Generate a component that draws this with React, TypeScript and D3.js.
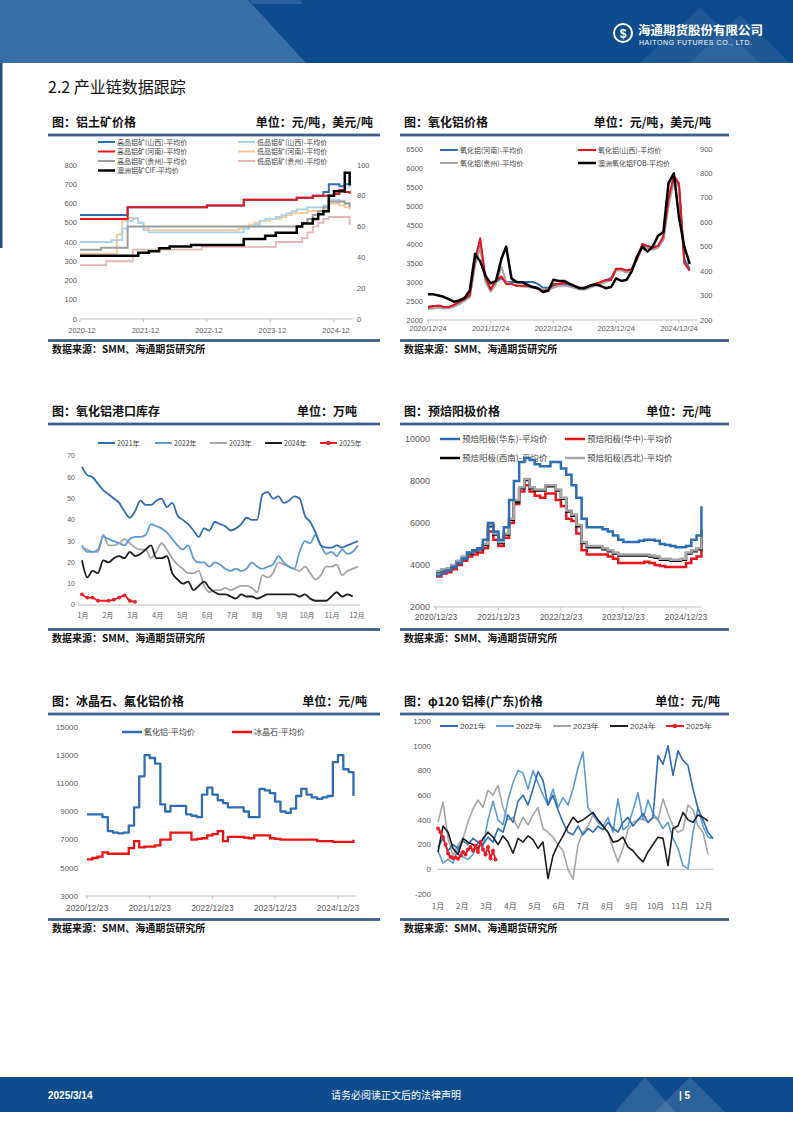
import React from "react";
import * as d3 from "d3";

// ================= DATA =================
// Chart 1: 铝土矿价格 monthly 2020-12 .. 2025-03 (52 months)
const c1TickLabels = ["2020-12", "2021-12", "2022-12", "2023-12", "2024-12"];
const c1LeftTicks = [0, 100, 200, 300, 400, 500, 600, 700, 800];
const c1RightTicks = [0, 20, 40, 60, 80, 100];
const c1HighSX = [540,540,540,540,540,540,540,540,540,580,580,580,580,580,580,580,580,580,580,580,580,580,580,580,590,590,590,590,590,590,590,620,620,620,620,620,620,620,620,620,620,630,630,630,640,640,660,700,700,690,700,690];
const c1HighHN = [520,520,520,520,520,520,520,520,520,580,580,580,580,580,580,580,580,580,580,580,580,580,580,580,590,590,590,590,590,590,590,620,620,620,620,620,620,620,620,620,620,630,630,630,640,640,640,640,650,670,660,650];
const c1HighGZ = [360,360,360,360,370,370,370,370,370,480,480,480,480,480,480,480,480,480,480,480,480,480,480,480,480,480,480,480,480,480,480,480,480,480,480,480,480,480,480,480,480,480,500,520,540,560,580,610,610,610,600,580];
const c1LowSX = [400,400,400,400,400,400,410,410,470,510,520,500,460,450,450,450,450,450,450,450,450,450,450,450,450,450,450,450,450,450,450,470,480,490,510,520,520,530,540,550,560,570,570,580,580,580,590,620,620,610,600,600];
const c1LowHN = [340,340,340,340,340,340,340,440,510,525,525,500,470,460,460,460,460,460,460,460,460,460,460,460,460,460,460,460,460,460,470,480,490,500,510,510,520,520,530,540,550,550,550,560,560,560,570,600,600,590,580,570];
const c1LowGZ = [280,280,280,280,280,300,300,300,300,300,360,360,360,360,360,360,360,360,360,360,360,360,360,375,375,375,375,375,375,375,375,375,375,375,375,375,375,400,400,400,400,400,420,450,480,500,520,530,530,530,530,490];
const c1CIF = [41,41,41,41,41,41,41,41,41,41,41,43,43,44,44,46,46,47,47,47,47,48,48,48,48,48,48,48,48,48,48,52,52,52,52,54,54,56,56,56,56,60,62,62,65,68,70,80,83,83,95,87];

// Chart 2: 氧化铝价格 monthly from 2020/12/24 (51 months)
const c2TickLabels = ["2020/12/24", "2021/12/24", "2022/12/24", "2023/12/24", "2024/12/24"];
const c2LeftTicks = [2000, 2500, 3000, 3500, 4000, 4500, 5000, 5500, 6000, 6500];
const c2RightTicks = [200, 300, 400, 500, 600, 700, 800, 900];
const c2Henan = [2350,2370,2360,2330,2340,2380,2450,2520,2620,3500,3950,3050,2800,3000,3100,3000,3000,3000,3000,3000,3000,2950,2850,2850,2900,2950,2950,2920,2880,2850,2850,2900,2950,2980,3050,3100,3350,3330,3300,3330,3650,3950,3950,3900,3950,4150,5100,5750,5500,3600,3350];
const c2Shanxi = [2330,2360,2380,2350,2340,2400,2480,2550,2650,3600,4150,3100,2800,3050,3150,2950,2950,2900,2900,2900,2880,2850,2750,2800,2950,2950,2980,2950,2900,2850,2850,2900,2950,3000,3050,3050,3350,3350,3300,3350,3600,4000,3950,3900,3950,4200,5200,5800,5600,3500,3300];
const c2Guizhou = [2280,2300,2320,2300,2310,2350,2420,2500,2600,3450,3900,3000,2750,2950,3400,3000,2950,2900,2880,2870,2850,2820,2800,2800,2850,2900,2900,2880,2850,2800,2800,2850,2900,2950,3000,3050,3300,3300,3250,3300,3600,3900,3900,3850,3900,4100,5000,5650,5500,3500,3300];
const c2FOB = [305,305,300,295,285,275,280,290,320,470,440,380,350,360,450,500,370,355,355,345,335,330,315,320,365,360,360,350,340,330,330,340,345,340,330,335,370,360,365,400,460,500,480,500,545,560,760,800,620,500,430];

// Chart 3: 氧化铝港口库存 weekly (万吨)
const c3Months = ["1月","2月","3月","4月","5月","6月","7月","8月","9月","10月","11月","12月"];
const c3Ticks = [0, 10, 20, 30, 40, 50, 60, 70];
const c3Y2021 = [65,61,60,57,54,52,50,48,44,41,44,49,47,47,49,50,46,48,42,40,38,35,32,36,35,39,38,37,35,36,38,41,40,40,52,53,50,51,48,49,51,50,42,39,34,28,27,27,28,27,28,29,30];
const c3Y2022 = [28,25,25,26,32,31,30,29,28,31,32,32,33,38,37,36,34,31,28,26,28,22,20,20,18,20,19,17,16,17,16,17,20,18,17,18,19,23,20,18,17,25,30,29,33,28,24,25,23,26,24,25,28];
const c3Y2023 = [27,26,25,25,33,28,28,29,31,29,27,26,26,22,25,29,26,22,19,17,15,15,16,9,6,7,7,8,7,8,9,9,8,6,14,13,15,20,19,18,17,16,18,15,12,14,18,18,19,14,16,17,18];
const c3Y2024 = [21,13,16,15,21,20,22,23,22,25,23,24,26,28,22,22,23,15,12,10,11,7,9,11,8,6,5,5,4,3,5,4,4,3,4,5,5,5,5,5,5,4,5,3,2,2,2,4,6,4,5,4];
const c3W2025 = [0, 1, 2, 3, 5, 6, 7, 8, 9, 10];
const c3Y2025 = [5, 3.5, 3.5, 2, 2, 2.5, 3.5, 4.5, 2, 1.5];

// Chart 4: 预焙阳极价格 monthly from 2020/12/23 (52 months)
const c4TickLabels = ["2020/12/23", "2021/12/23", "2022/12/23", "2023/12/23", "2024/12/23"];
const c4Ticks = [2000, 4000, 6000, 8000, 10000];
const c4East = [3500,3650,3750,3900,4100,4300,4600,4700,4800,5200,6000,5600,5200,5800,7100,8000,8900,9100,9000,8800,8700,8700,8900,8900,8600,8300,7800,7200,6200,5800,5800,5800,5700,5600,5400,5200,5100,5100,5100,5150,5200,5200,5150,5000,4950,4900,4850,4850,4900,5200,5400,6800];
const c4Central = [3450,3600,3650,3800,4000,4200,4400,4500,4600,4800,5600,5200,4900,5300,6000,6900,7500,7800,7500,7300,7200,7400,7400,7100,6800,6200,6100,5500,4700,4500,4500,4500,4500,4400,4300,4100,4100,4100,4100,4100,4150,4100,4000,3950,3900,3900,3900,3900,4100,4300,4400,5300];
const c4SW = [3650,3750,3800,3950,4150,4350,4550,4650,4750,4950,5850,5450,5050,5450,6150,7000,7650,8050,7650,7550,7550,7750,7750,7550,7150,6550,6350,5850,5050,4850,4850,4850,4750,4650,4550,4450,4450,4450,4450,4450,4450,4400,4350,4250,4250,4200,4200,4250,4550,4650,4750,5650];
const c4NW = [3700,3800,3850,4000,4200,4400,4600,4700,4800,5000,5900,5500,5100,5500,6200,7100,7700,8100,7700,7600,7600,7800,7800,7600,7200,6600,6400,5900,5100,4900,4900,4900,4800,4700,4600,4500,4500,4500,4500,4500,4500,4450,4400,4300,4300,4250,4250,4300,4600,4700,4800,5700];

// Chart 5: 冰晶石、氟化铝价格 monthly from 2020/12/23 (52 months)
const c5TickLabels = ["2020/12/23", "2021/12/23", "2022/12/23", "2023/12/23", "2024/12/23"];
const c5Ticks = [3000, 5000, 7000, 9000, 11000, 13000, 15000];
const c5AlF3 = [8800,8800,8800,8600,7600,7500,7450,7500,8000,9300,11500,13000,12800,12400,9500,9000,9400,9400,9400,8800,8700,8600,10200,10700,10200,9800,9600,9300,9300,9300,9000,8600,8600,10600,10500,10300,9700,9000,8900,9200,10100,10600,10200,10000,9900,10000,10100,12500,13000,12000,11800,10100];
const c5Cryolite = [5600,5700,5800,6100,6000,6000,6000,6000,6400,6900,6450,6500,6500,6600,7000,7000,7500,7500,7500,7500,7000,7050,7100,7300,7400,7600,6900,7200,7200,7200,7150,7100,7300,7300,7300,7100,7050,7000,7000,7000,7000,7000,7000,7000,6900,6900,6900,6850,6850,6850,6850,7000];

// Chart 6: φ120 铝棒(广东)价格 — samples every 2 steps (2025 every step)
const c6Months = ["1月","2月","3月","4月","5月","6月","7月","8月","9月","10月","11月","12月"];
const c6Ticks = [-200, 0, 200, 400, 600, 800, 1000, 1200];
const c6Y2021 = [180,250,150,200,170,230,200,250,220,200,260,220,330,300,440,380,550,600,520,650,790,720,520,600,480,380,300,280,350,280,330,300,350,320,380,330,300,380,420,350,400,450,380,420,920,850,1000,760,960,880,840,650,490,400,300,250];
const c6Y2022 = [150,50,80,50,170,100,80,120,220,180,400,550,400,360,560,700,800,780,650,800,700,600,520,650,500,580,520,650,820,950,500,440,380,350,420,300,570,320,350,480,620,400,560,450,400,330,380,250,170,30,5,300,500,350,260,250];
const c6Y2023 = [380,545,250,110,200,250,380,490,560,500,640,600,680,500,400,420,330,420,360,440,500,330,300,260,200,150,0,-80,200,300,350,440,380,350,300,170,60,170,320,380,400,410,380,420,400,570,450,350,300,320,520,480,350,300,120];
const c6Y2024 = [140,350,300,170,120,250,220,200,170,250,300,260,200,270,220,130,250,220,270,240,170,220,-75,110,200,270,350,420,380,400,430,460,400,350,300,220,230,260,180,150,100,60,140,200,260,250,30,330,350,460,400,380,440,420,390];
const c6Y2025 = [330,300,260,200,130,100,90,95,85,110,140,120,160,180,150,190,140,220,160,120,180,90,150,80];

// ================= STYLE =================
const CJK = "'Noto Sans CJK SC', 'Noto Sans', sans-serif";
const SANS = "'Liberation Sans', Arial, sans-serif";
const TICK = "#595959";
const BLUE_D = "#2e6db4";
const BLUE_L = "#5b9bd5";
const GRAY = "#a6a6a6";
const BLACK = "#1c1c1c";
const RED = "#ee1c25";
const RULE = "#3f5e8c";
const AXIS = "#bfbfbf";

type PanelProps = { x0: number; x1: number; ruleY: number; title: string; unit: string; unitEnd: number };
function Panel({ x0, x1, ruleY, title, unit, unitEnd }: PanelProps) {
  const bottom = ruleY + 205.5;
  return (
    <g>
      <text x={x0 + 4} y={ruleY - 8} fontSize={12} fontWeight="bold" fontFamily={CJK} fill="#111">{title}</text>
      <text x={unitEnd} y={ruleY - 8} fontSize={12} fontWeight="bold" fontFamily={CJK} fill="#111" textAnchor="end">{unit}</text>
      <rect x={x0} y={ruleY - 1.4} width={x1 - x0} height={2.8} fill={RULE} />
      <rect x={x0} y={bottom - 1.4} width={x1 - x0} height={2.8} fill={RULE} />
      <text x={x0 + 4} y={bottom + 12} fontSize={10} fontWeight="bold" fontFamily={CJK} fill="#111">数据来源：SMM、海通期货研究所</text>
    </g>
  );
}

function LegendLine({ x, y, color, label, w = 17, size = 7, width = 2, marker = false, font = CJK }: any) {
  return (
    <g>
      <line x1={x} x2={x + w} y1={y} y2={y} stroke={color} strokeWidth={width} />
      {marker && <circle cx={x + w / 2} cy={y} r={2.2} fill={color} />}
      <text x={x + w + 2} y={y + size * 0.36} fontSize={size} fontFamily={font} fill="#404040">{label}</text>
    </g>
  );
}

// ---------- Chart 1
function Chart1() {
  const start = new Date(2020, 11, 1);
  const dates = c1CIF.map((_, i) => d3.timeMonth.offset(start, i));
  const x = d3.scaleTime().domain([new Date(2020, 11, 1), new Date(2024, 11, 1)]).range([80, 334]);
  const yL = d3.scaleLinear().domain([0, 800]).range([319, 165]);
  const yR = d3.scaleLinear().domain([0, 100]).range([319, 165]);
  const mk = (y: any) => d3.line<number>().x((_, i) => x(dates[i])).y((d) => y(d)).curve(d3.curveStepAfter);
  const series = [
    { d: c1LowGZ, c: "#e8b3b6", w: 1.8, y: yL },
    { d: c1LowHN, c: "#f6c796", w: 1.8, y: yL },
    { d: c1LowSX, c: "#a9d2ea", w: 1.8, y: yL },
    { d: c1HighGZ, c: "#9c9c9c", w: 2, y: yL },
    { d: c1HighSX, c: BLUE_D, w: 2, y: yL },
    { d: c1HighHN, c: "#e8141b", w: 2, y: yL },
    { d: c1CIF, c: "#000", w: 2.5, y: yR },
  ];
  const tickDates = c1TickLabels.map((_, i) => new Date(2020 + i, 11, 1));
  return (
    <g>
      <line x1={80} x2={353} y1={319} y2={319} stroke={AXIS} />
      {c1LeftTicks.map((t) => (
        <text key={t} x={77} y={yL(t) + 2.6} fontSize={7.5} fontFamily={SANS} fill={TICK} textAnchor="end">{t}</text>
      ))}
      {c1RightTicks.map((t) => (
        <text key={t} x={357} y={yR(t) + 2.6} fontSize={7.5} fontFamily={SANS} fill={TICK}>{t}</text>
      ))}
      {tickDates.map((d, i) => (
        <g key={i}>
          <line x1={x(d)} x2={x(d)} y1={319} y2={322} stroke={AXIS} />
          <text x={x(d) + 2} y={333} fontSize={7.5} fontFamily={SANS} fill={TICK} textAnchor="middle">{c1TickLabels[i]}</text>
        </g>
      ))}
      {series.map((s, i) => (
        <path key={i} d={mk(s.y)(s.d) || ""} fill="none" stroke={s.c} strokeWidth={s.w} />
      ))}
      <LegendLine x={98} y={142} color={BLUE_D} label="高品铝矿(山西)-平均价" />
      <LegendLine x={98} y={151.5} color="#e8141b" label="高品铝矿(河南)-平均价" />
      <LegendLine x={98} y={161} color="#9c9c9c" label="高品铝矿(贵州)-平均价" />
      <LegendLine x={98} y={170.5} color="#000" label="澳洲铝矿CIF-平均价" width={2.5} />
      <LegendLine x={238} y={142} color="#a9d2ea" label="低品铝矿(山西)-平均价" />
      <LegendLine x={238} y={151.5} color="#f6c796" label="低品铝矿(河南)-平均价" />
      <LegendLine x={238} y={161} color="#e8b3b6" label="低品铝矿(贵州)-平均价" />
    </g>
  );
}

// ---------- Chart 2
function Chart2() {
  const start = new Date(2020, 11, 24);
  const dates = c2FOB.map((_, i) => d3.timeMonth.offset(start, i));
  const x = d3.scaleTime().domain([new Date(2020, 11, 24), new Date(2024, 11, 24)]).range([428, 679]);
  const yL = d3.scaleLinear().domain([2000, 6500]).range([320, 149]);
  const yR = d3.scaleLinear().domain([200, 900]).range([320, 149]);
  const mk = (y: any) => d3.line<number>().x((_, i) => x(dates[i])).y((d) => y(d)).curve(d3.curveLinear);
  const series = [
    { d: c2Henan, c: BLUE_D, y: yL, w: 2 },
    { d: c2Guizhou, c: GRAY, y: yL, w: 2 },
    { d: c2Shanxi, c: "#e8141b", y: yL, w: 2 },
    { d: c2FOB, c: "#000", y: yR, w: 2.5 },
  ];
  const tickDates = c2TickLabels.map((_, i) => new Date(2020 + i, 11, 24));
  return (
    <g>
      <line x1={427} x2={697} y1={320} y2={320} stroke={AXIS} />
      {c2LeftTicks.map((t) => (
        <text key={t} x={423} y={yL(t) + 2.6} fontSize={7.5} fontFamily={SANS} fill={TICK} textAnchor="end">{t}</text>
      ))}
      {c2RightTicks.map((t) => (
        <text key={t} x={700} y={yR(t) + 2.6} fontSize={7.5} fontFamily={SANS} fill={TICK}>{t}</text>
      ))}
      {tickDates.map((d, i) => (
        <g key={i}>
          <line x1={x(d)} x2={x(d)} y1={320} y2={323} stroke={AXIS} />
          <text x={x(d)} y={331} fontSize={7.5} fontFamily={SANS} fill={TICK} textAnchor="middle">{c2TickLabels[i]}</text>
        </g>
      ))}
      {series.map((s, i) => (
        <path key={i} d={mk(s.y)(s.d) || ""} fill="none" stroke={s.c} strokeWidth={s.w} strokeLinejoin="round" />
      ))}
      <LegendLine x={440} y={150} color={BLUE_D} label="氧化铝(河南)-平均价" w={18} />
      <LegendLine x={440} y={163} color={GRAY} label="氧化铝(贵州)-平均价" w={18} />
      <LegendLine x={578} y={150} color="#e8141b" label="氧化铝(山西)-平均价" w={18} />
      <LegendLine x={578} y={163} color="#000" label="澳洲氧化铝FOB-平均价" w={18} width={2.5} />
    </g>
  );
}

// ---------- Chart 3
function Chart3() {
  const x = d3.scaleLinear().domain([0, 52]).range([82, 358]);
  const y = d3.scaleLinear().domain([0, 70]).range([605, 456]);
  const mx = d3.scalePoint<string>().domain(c3Months).range([83, 357]);
  const mk = d3.line<number>().x((_, i) => x(i)).y((d) => y(d)).curve(d3.curveMonotoneX);
  const mk25 = d3.line<number>().x((_, i) => x(c3W2025[i])).y((d) => y(d)).curve(d3.curveMonotoneX);
  const series = [
    { d: c3Y2023, c: GRAY },
    { d: c3Y2024, c: BLACK },
    { d: c3Y2022, c: BLUE_L },
    { d: c3Y2021, c: BLUE_D },
  ];
  return (
    <g>
      <line x1={78} x2={360} y1={605} y2={605} stroke={AXIS} />
      {c3Ticks.map((t) => (
        <text key={t} x={75} y={y(t) + 2.4} fontSize={7} fontFamily={SANS} fill={TICK} textAnchor="end">{t}</text>
      ))}
      {c3Months.map((m) => (
        <text key={m} x={mx(m)} y={617.5} fontSize={7} fontFamily={CJK} fill={TICK} textAnchor="middle">{m}</text>
      ))}
      {series.map((s, i) => (
        <path key={i} d={mk(s.d) || ""} fill="none" stroke={s.c} strokeWidth={1.8} />
      ))}
      <path d={mk25(c3Y2025) || ""} fill="none" stroke={RED} strokeWidth={1.8} />
      {c3Y2025.map((v, i) => (
        <circle key={i} cx={x(c3W2025[i])} cy={y(v)} r={1.9} fill={RED} />
      ))}
      <LegendLine x={98} y={443} color={BLUE_D} label="2021年" w={17} size={7} />
      <LegendLine x={155} y={443} color={BLUE_L} label="2022年" w={17} size={7} />
      <LegendLine x={210} y={443} color={GRAY} label="2023年" w={17} size={7} />
      <LegendLine x={265} y={443} color={BLACK} label="2024年" w={17} size={7} />
      <LegendLine x={320} y={443} color={RED} label="2025年" w={17} size={7} marker />
    </g>
  );
}

// ---------- Chart 4
function Chart4() {
  const start = new Date(2020, 11, 23);
  const dates = c4East.map((_, i) => d3.timeMonth.offset(start, i));
  const x = d3.scaleTime().domain([new Date(2020, 11, 23), new Date(2024, 11, 23)]).range([436, 686]);
  const y = d3.scaleLinear().domain([2000, 10000]).range([607, 439]);
  const mk = d3.line<number>().x((_, i) => x(dates[i])).y((d) => y(d)).curve(d3.curveStepAfter);
  const tickDates = c4TickLabels.map((_, i) => new Date(2020 + i, 11, 23));
  const series = [
    { d: c4Central, c: "#e8141b" },
    { d: c4SW, c: "#000" },
    { d: c4NW, c: "#a6a6a6" },
    { d: c4East, c: BLUE_D },
  ];
  return (
    <g>
      <line x1={433} x2={701} y1={607} y2={607} stroke={AXIS} />
      {c4Ticks.map((t) => (
        <text key={t} x={430} y={y(t) + 3.2} fontSize={9} fontFamily={SANS} fill={TICK} textAnchor="end">{t}</text>
      ))}
      {tickDates.map((d, i) => (
        <g key={i}>
          <line x1={x(d)} x2={x(d)} y1={607} y2={610} stroke={AXIS} />
          <text x={x(d)} y={620} fontSize={8.5} fontFamily={SANS} fill={TICK} textAnchor="middle">{c4TickLabels[i]}</text>
        </g>
      ))}
      <LegendLine x={440} y={439} color={BLUE_D} label="预焙阳极(华东)-平均价" w={20} size={8.5} width={2.5} />
      <LegendLine x={440} y={458} color="#000" label="预焙阳极(西南)-平均价" w={20} size={8.5} width={2.5} />
      <LegendLine x={565} y={439} color="#e8141b" label="预焙阳极(华中)-平均价" w={20} size={8.5} width={2.5} />
      <LegendLine x={565} y={458} color="#a6a6a6" label="预焙阳极(西北)-平均价" w={20} size={8.5} width={2.5} />
      {series.map((s, i) => (
        <path key={i} d={mk(s.d) || ""} fill="none" stroke={s.c} strokeWidth={2.5} />
      ))}
    </g>
  );
}

// ---------- Chart 5
function Chart5() {
  const start = new Date(2020, 11, 23);
  const dates = c5AlF3.map((_, i) => d3.timeMonth.offset(start, i));
  const x = d3.scaleTime().domain([new Date(2020, 11, 23), new Date(2024, 11, 23)]).range([87, 338]);
  const y = d3.scaleLinear().domain([3000, 15000]).range([896, 727]);
  const stp = d3.line<number>().x((_, i) => x(dates[i])).y((d) => y(d)).curve(d3.curveStepAfter);
  const tickDates = c5TickLabels.map((_, i) => new Date(2020 + i, 11, 23));
  return (
    <g>
      <line x1={85} x2={356} y1={896} y2={896} stroke={AXIS} />
      {c5Ticks.map((t) => (
        <text key={t} x={78} y={y(t) + 2.8} fontSize={8} fontFamily={SANS} fill={TICK} textAnchor="end">{t}</text>
      ))}
      {tickDates.map((d, i) => (
        <g key={i}>
          <line x1={x(d)} x2={x(d)} y1={896} y2={899} stroke={AXIS} />
          <text x={x(d)} y={911} fontSize={8.5} fontFamily={SANS} fill={TICK} textAnchor="middle">{c5TickLabels[i]}</text>
        </g>
      ))}
      <path d={stp(c5Cryolite) || ""} fill="none" stroke="#ee1111" strokeWidth={2.3} />
      <path d={stp(c5AlF3) || ""} fill="none" stroke={BLUE_D} strokeWidth={2.3} strokeLinejoin="round" />
      <LegendLine x={122} y={732} color={BLUE_D} label="氟化铝-平均价" w={20} size={8} width={2.5} />
      <LegendLine x={232} y={732} color="#ee1111" label="冰晶石-平均价" w={20} size={8} width={2.5} />
    </g>
  );
}

// ---------- Chart 6
function Chart6() {
  const x = d3.scaleLinear().domain([0, 110]).range([438, 713]);
  const y = d3.scaleLinear().domain([-200, 1200]).range([894, 721]);
  const mx = d3.scalePoint<string>().domain(c6Months).range([438, 704]);
  const yr = d3.line<number>().x((_, i) => x(i * 2)).y((d) => y(d)).curve(d3.curveLinear);
  const y25 = d3.line<number>().x((_, i) => x(i)).y((d) => y(d)).curve(d3.curveLinear);
  const series = [
    { d: c6Y2023, c: GRAY },
    { d: c6Y2022, c: BLUE_L },
    { d: c6Y2021, c: BLUE_D },
    { d: c6Y2024, c: BLACK },
  ];
  return (
    <g>
      <line x1={437} x2={713} y1={y(0)} y2={y(0)} stroke={AXIS} />
      {c6Ticks.map((t) => (
        <text key={t} x={431} y={y(t) + 2.9} fontSize={8} fontFamily={SANS} fill={TICK} textAnchor="end">{t}</text>
      ))}
      {c6Months.map((m) => (
        <text key={m} x={mx(m)} y={909} fontSize={8} fontFamily={CJK} fill={TICK} textAnchor="middle">{m}</text>
      ))}
      {series.map((s, i) => (
        <path key={i} d={yr(s.d) || ""} fill="none" stroke={s.c} strokeWidth={1.6} strokeLinejoin="round" />
      ))}
      <path d={y25(c6Y2025) || ""} fill="none" stroke={RED} strokeWidth={1.8} />
      {c6Y2025.map((v, i) => (
        <circle key={i} cx={x(i)} cy={y(v)} r={2} fill={RED} />
      ))}
      <LegendLine x={440} y={726} color={BLUE_D} label="2021年" w={18} size={8} font={SANS} />
      <LegendLine x={496} y={726} color={BLUE_L} label="2022年" w={18} size={8} font={SANS} />
      <LegendLine x={553} y={726} color={GRAY} label="2023年" w={18} size={8} font={SANS} />
      <LegendLine x={610} y={726} color={BLACK} label="2024年" w={18} size={8} font={SANS} />
      <LegendLine x={666} y={726} color={RED} label="2025年" w={18} size={8} font={SANS} marker />
    </g>
  );
}

function Header() {
  return (
    <g>
      <rect x={0} y={0} width={793} height={63} fill="#0f4c8d" />
      <polygon points="0,0 248,0 306,63 0,63" fill="#3a6ea7" />
      <polygon points="250,0 300,0 302,4 252,4" fill="#4a7cb2" opacity={0.5} />
      <polygon points="640,63 700,8 760,63" fill="#ffffff" opacity={0.07} />
      <polygon points="690,63 740,15 790,63" fill="#ffffff" opacity={0.07} />
      <circle cx={623} cy={33} r={9} fill="none" stroke="#fff" strokeWidth={2} />
      <text x={623} y={37.5} fontSize={12} fontWeight="bold" fontFamily={SANS} fill="#fff" textAnchor="middle">$</text>
      <text x={638} y={35} fontSize={12.5} fontWeight="bold" fontFamily={CJK} fill="#fff">海通期货股份有限公司</text>
      <text x={639} y={45} fontSize={7} fontFamily={SANS} fill="#fff" textLength={113}>HAITONG FUTURES CO., LTD.</text>
      <rect x={0} y={63} width={2.5} height={185} fill="#1f4e85" />
      <text x={48} y={93} fontSize={16} fontFamily={CJK} fill="#111">2.2 产业链数据跟踪</text>
    </g>
  );
}

function Footer() {
  return (
    <g>
      <rect x={0} y={1077} width={793} height={35} fill="#0f4c8d" />
      <polygon points="615,1112 645,1077 675,1112" fill="#ffffff" opacity={0.12} />
      <polygon points="655,1112 690,1077 725,1112" fill="#ffffff" opacity={0.12} />
      <text x={48} y={1099} fontSize={10} fontWeight="bold" fontFamily={SANS} fill="#fff">2025/3/14</text>
      <text x={396} y={1099} fontSize={10} fontFamily={CJK} fill="#fff" textAnchor="middle">请务必阅读正文后的法律声明</text>
      <text x={679} y={1099} fontSize={10} fontWeight="bold" fontFamily={SANS} fill="#fff">| 5</text>
    </g>
  );
}

export default function App() {
  return (
    <svg width={793} height={1122} viewBox="0 0 793 1122" style={{ position: "absolute", left: 0, top: 0, background: "#fff" }}>
      <rect x={0} y={0} width={793} height={1122} fill="#fff" />
      <Header />
      <Panel x0={48} x1={380} ruleY={135} title="图：铝土矿价格" unit="单位：元/吨，美元/吨" unitEnd={373} />
      <Panel x0={400} x1={729} ruleY={135} title="图：氧化铝价格" unit="单位：元/吨，美元/吨" unitEnd={711} />
      <Panel x0={48} x1={380} ruleY={424} title="图：氧化铝港口库存" unit="单位：万吨" unitEnd={357} />
      <Panel x0={400} x1={729} ruleY={424} title="图：预焙阳极价格" unit="单位：元/吨" unitEnd={711} />
      <Panel x0={48} x1={380} ruleY={714} title="图：冰晶石、氟化铝价格" unit="单位：元/吨" unitEnd={367} />
      <Panel x0={400} x1={729} ruleY={714} title="图：φ120 铝棒(广东)价格" unit="单位：元/吨" unitEnd={720} />
      <Chart1 />
      <Chart2 />
      <Chart3 />
      <Chart4 />
      <Chart5 />
      <Chart6 />
      <Footer />
    </svg>
  );
}
